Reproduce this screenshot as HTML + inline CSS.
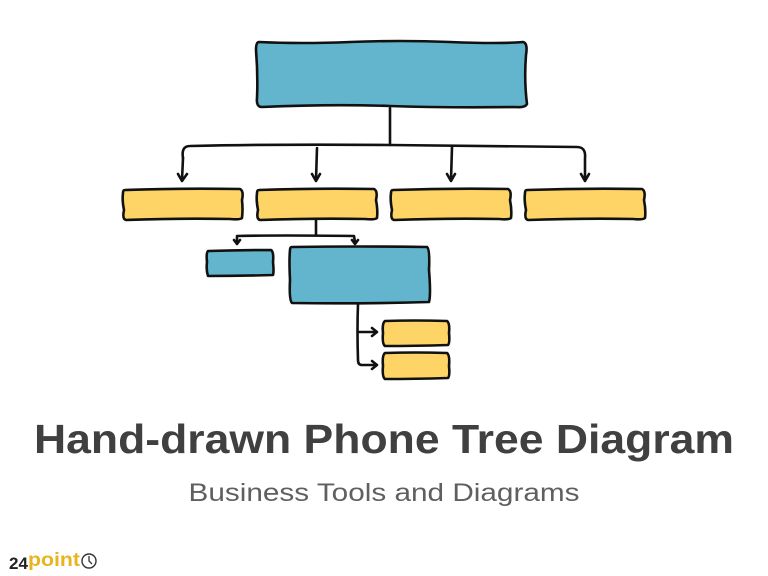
<!DOCTYPE html>
<html><head><meta charset="utf-8"><style>
html,body{margin:0;padding:0;background:#fff;}
svg{display:block}
</style></head><body>
<svg width="768" height="576" viewBox="0 0 768 576" xmlns="http://www.w3.org/2000/svg">
<g stroke="#111" stroke-width="2.6" stroke-linejoin="round" stroke-linecap="round">
<path d="M259 42 Q300 44 350 42 T450 42 T523 42 Q528 43 526 55 Q524 80 527 104 Q525 108 515 107 Q450 108 390 106 T262 107 Q256 107 257 98 Q258 75 256 50 Q256 42 259 42 Z" fill="#62b5cd"/>
<g fill="none">
<path d="M390 108 L390 145"/>
<path d="M183 158 Q181 146 190 146 Q280 144 390 145 Q490 146 577 147 Q586 147 585 158 L585 180"/>
<path d="M183 158 L182 180"/>
<path d="M317 148 L316 180"/>
<path d="M452 147 L451 180"/>
<path d="M178 174 L182 181 L187 174"/>
<path d="M312 174 L316 181 L320 174"/>
<path d="M447 174 L451 181 L455 174"/>
<path d="M581 174 L585 181 L589 174"/>
<path d="M316 220 L316 235 M237 242 L237 236 Q280 235 354 236 L355 242"/>
<path d="M234 240 L237 244 L240 240"/>
<path d="M352 240 L355 244 L358 240"/>
<path d="M358 304 Q357 330 358 360 Q358 365 362 365 L376 365 M358 332 L376 332"/>
<path d="M372 328 L377 332 L372 336"/>
<path d="M372 361 L377 365 L372 369"/>
</g>
<path d="M125 190 Q180 188 240 189 Q244 191 242 200 Q243 210 242 218 Q240 220 230 219 Q180 218 126 220 Q122 219 124 210 Q122 200 123 193 Q123 190 125 190 Z" fill="#fdd465"/>
<path d="M259 190 Q315 188 374 189 Q378 191 376 200 Q378 210 377 218 Q375 220 365 219 Q315 218 260 220 Q256 219 258 210 Q256 200 257 193 Q257 190 259 190 Z" fill="#fdd465"/>
<path d="M393 190 Q450 188 508 189 Q512 191 510 200 Q512 210 511 218 Q509 220 499 219 Q450 218 394 220 Q390 219 392 210 Q390 200 391 193 Q391 190 393 190 Z" fill="#fdd465"/>
<path d="M527 190 Q585 188 642 189 Q646 191 644 200 Q646 210 645 218 Q643 220 633 219 Q585 218 528 220 Q524 219 526 210 Q524 200 525 193 Q525 190 527 190 Z" fill="#fdd465"/>
<path d="M208 251 Q240 250 271 250 Q274 252 273 262 Q274 272 273 275 Q240 276 208 276 Q206 270 207 262 Q206 253 208 251 Z" fill="#62b5cd"/>
<path d="M292 247 Q360 246 427 247 Q430 249 429 270 Q431 295 429 302 Q360 304 292 303 Q289 300 290 280 Q289 260 290 250 Q290 247 292 247 Z" fill="#62b5cd"/>
<path d="M385 321 Q415 320 447 321 Q450 323 449 333 Q450 343 448 345 Q415 346 385 346 Q382 344 383 333 Q382 323 385 321 Z" fill="#fdd465"/>
<path d="M385 353 Q415 352 447 353 Q450 355 449 366 Q450 376 448 378 Q415 379 385 379 Q382 377 383 366 Q382 355 385 353 Z" fill="#fdd465"/>
</g>
<text x="384" y="453" text-anchor="middle" font-family="Liberation Sans, sans-serif" font-weight="bold" font-size="41" fill="#404040" textLength="700" lengthAdjust="spacingAndGlyphs">Hand-drawn Phone Tree Diagram</text>
<text x="384" y="501" text-anchor="middle" font-family="Liberation Sans, sans-serif" font-size="25" fill="#5f5f5f" textLength="391" lengthAdjust="spacingAndGlyphs">Business Tools and Diagrams</text>
<text x="9" y="569" font-family="Liberation Sans, sans-serif" font-weight="bold" font-size="17" fill="#222">24</text>
<text x="28" y="566" font-family="Liberation Sans, sans-serif" font-weight="bold" font-size="19" fill="#e8b520" textLength="52" lengthAdjust="spacingAndGlyphs">point</text>
<circle cx="89" cy="561" r="7" fill="none" stroke="#333" stroke-width="1.4"/>
<path d="M89 556 L89 561 L92 564" fill="none" stroke="#333" stroke-width="1.3"/>
</svg>
</body></html>
